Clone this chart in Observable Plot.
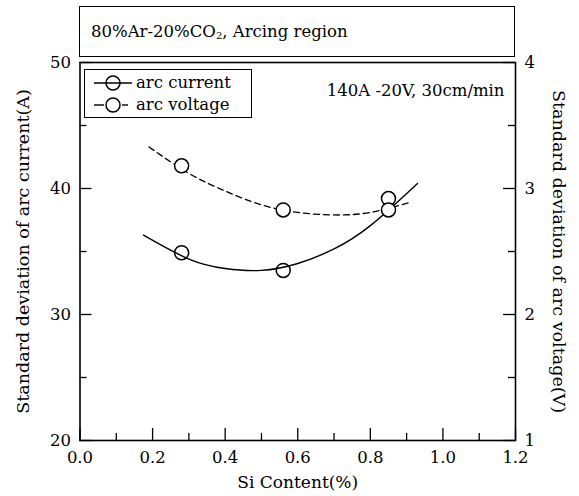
<!DOCTYPE html>
<html>
<head>
<meta charset="utf-8">
<script src="https://cdn.jsdelivr.net/npm/d3@7"></script>
<script src="https://cdn.jsdelivr.net/npm/@observablehq/plot@0.6"></script>
<style>
  html, body { margin: 0; padding: 0; background: #fff; }
  #wrap { position: relative; width: 579px; height: 496px; font-family: "DejaVu Serif", serif; color: #000; }
  #wrap svg text { font-family: "DejaVu Serif", serif; }
  #title { position: absolute; left: 79px; top: 6px; width: 423px; height: 49px; border: 1.5px solid #000; font-size: 16.5px; line-height: 49px; padding-left: 11px; box-sizing: content-box; }
  #legend { position: absolute; left: 84px; top: 69px; width: 166px; height: 47px; border: 1.5px solid #000; background: #fff; font-size: 16.5px; }
  .row { position: absolute; left: 0; height: 22px; line-height: 22px; white-space: nowrap; }
  .row svg { position: absolute; left: 8px; top: 2px; }
  .row span { position: absolute; left: 51px; }
</style>
</head>
<body>
<div id="wrap"></div>
<script>
// ---- data ----
const siContent = [0.28, 0.56, 0.85];
const arcCurrent = [34.9, 33.5, 39.2];      // A (left axis)
const arcVoltage = [3.18, 2.83, 2.83];      // V (right axis)

// fitted curves as drawn in the reference
const currentFitX = [0.175, 0.3, 0.4, 0.5, 0.6, 0.7, 0.8, 0.93];
const currentFitY = [36.3, 34.4, 33.65, 33.5, 34.05, 35.2, 37.05, 40.4];
const voltageFitX = [0.19, 0.3, 0.4, 0.5, 0.6, 0.7, 0.8, 0.91];
const voltageFitY = [3.33, 3.12, 2.98, 2.87, 2.81, 2.79, 2.81, 2.89];

const xMajor = [0, 0.2, 0.4, 0.6, 0.8, 1.0, 1.2];
const xMinor = [0.1, 0.3, 0.5, 0.7, 0.9, 1.1];
const yMajor = [20, 30, 40, 50];
const yMinor = [25, 35, 45];
const rightTickLabels = ["1", "2", "3", "4"];

const conditionText = "140A -20V, 30cm/min";
const xLabel = "Si Content(%)";
const yLabelLeft = "Standard deviation of arc current(A)";
const yLabelRight = "Standard deviation of arc voltage(V)";
const seriesNames = ["arc current", "arc voltage"];

// voltage (1..4 V) shares the frame with current (20..50 A)
const vToA = v => 20 + (v - 1) * 10;

const currentPts = siContent.map((x, i) => ({x, y: arcCurrent[i]}));
const voltagePts = siContent.map((x, i) => ({x, y: vToA(arcVoltage[i])}));
const currentFit = currentFitX.map((x, i) => ({x, y: currentFitY[i]}));
const voltageFit = voltageFitX.map((x, i) => ({x, y: vToA(voltageFitY[i])}));

const W = 579, H = 496;
const mL = 79.5, mR = 64, mT = 62, mB = 56;
const pw = W - mL - mR, ph = H - mT - mB;
const FF = "DejaVu Serif";

const chart = Plot.plot({
  width: W, height: H,
  marginLeft: mL, marginRight: mR, marginTop: mT, marginBottom: mB,
  style: {fontFamily: FF, fontSize: "16px", background: "#fff", color: "#000"},
  x: {domain: [0, 1.2]},
  y: {domain: [20, 50]},
  marks: [
    // inward tick marks
    Plot.ruleX(xMajor, {x: d => d, insetTop: ph - 12, stroke: "#000", strokeWidth: 1.3}),
    Plot.ruleX(xMinor, {x: d => d, insetTop: ph - 7, stroke: "#000", strokeWidth: 1.3}),
    Plot.ruleY(yMajor, {y: d => d, insetRight: pw - 12, stroke: "#000", strokeWidth: 1.3}),
    Plot.ruleY(yMinor, {y: d => d, insetRight: pw - 7, stroke: "#000", strokeWidth: 1.3}),
    Plot.ruleY(yMajor, {y: d => d, insetLeft: pw - 12, stroke: "#000", strokeWidth: 1.3}),
    Plot.ruleY(yMinor, {y: d => d, insetLeft: pw - 7, stroke: "#000", strokeWidth: 1.3}),
    Plot.frame({stroke: "#000", strokeWidth: 1.6}),
    // tick labels
    Plot.axisX({ticks: xMajor, tickSize: 0, tickPadding: 11, tickFormat: d3.format(".1f"), label: null, fontFamily: FF, fontSize: 16.5}),
    Plot.axisY({anchor: "left", ticks: yMajor, tickSize: 0, tickPadding: 9, label: null, fontFamily: FF, fontSize: 16.5}),
    Plot.axisY({anchor: "right", ticks: yMajor, tickSize: 0, tickPadding: 9, label: null, fontFamily: FF, fontSize: 16.5,
      tickFormat: d => rightTickLabels[yMajor.indexOf(d)]}),
    // axis titles
    Plot.text([xLabel], {text: d => d, frameAnchor: "bottom", dy: 47, fontSize: 17, fontFamily: FF}),
    Plot.text([yLabelLeft], {text: d => d, frameAnchor: "left", textAnchor: "middle", lineAnchor: "middle", dx: -57, rotate: -90, fontSize: 17.5, fontFamily: FF}),
    Plot.text([yLabelRight], {text: d => d, frameAnchor: "right", textAnchor: "middle", lineAnchor: "middle", dx: 43, rotate: 90, fontSize: 17.5, fontFamily: FF}),
    Plot.text([conditionText], {text: d => d, frameAnchor: "top-right", dx: -11, dy: 22, textAnchor: "end", fontSize: 16.5, fontFamily: FF}),
    // fitted curves
    Plot.line(currentFit, {x: "x", y: "y", curve: "natural", stroke: "#000", strokeWidth: 1.4}),
    Plot.line(voltageFit, {x: "x", y: "y", curve: "natural", stroke: "#000", strokeWidth: 1.3, strokeDasharray: "6,4"}),
    // measured points
    Plot.dot(currentPts, {x: "x", y: "y", r: 7, stroke: "#000", strokeWidth: 1.5, fill: "none"}),
    Plot.dot(voltagePts, {x: "x", y: "y", r: 7, stroke: "#000", strokeWidth: 1.5, fill: "#fff"})
  ]
});

const wrap = document.getElementById("wrap");
wrap.appendChild(chart);

const title = document.createElement("div");
title.id = "title";
title.innerHTML = "80%Ar-20%CO<sub style='font-size:10px;vertical-align:-2px'>2</sub>, Arcing region";
wrap.appendChild(title);

const legend = document.createElement("div");
legend.id = "legend";
const mk = (dashed) => `<svg width="40" height="18" viewBox="0 0 40 18">
  <line x1="1" y1="9" x2="${dashed ? 11 : 39}" y2="9" stroke="#000" stroke-width="1.4"/>
  ${dashed ? '<line x1="29" y1="9" x2="35" y2="9" stroke="#000" stroke-width="1.4"/>' : ''}
  <circle cx="20" cy="9" r="7" stroke="#000" stroke-width="1.5" fill="${dashed ? '#fff' : 'none'}"/></svg>`;
legend.innerHTML = `<div class="row" style="top:2px">${mk(false)}<span>${seriesNames[0]}</span></div>
<div class="row" style="top:24px">${mk(true)}<span>${seriesNames[1]}</span></div>`;
wrap.appendChild(legend);
</script>
</body>
</html>
